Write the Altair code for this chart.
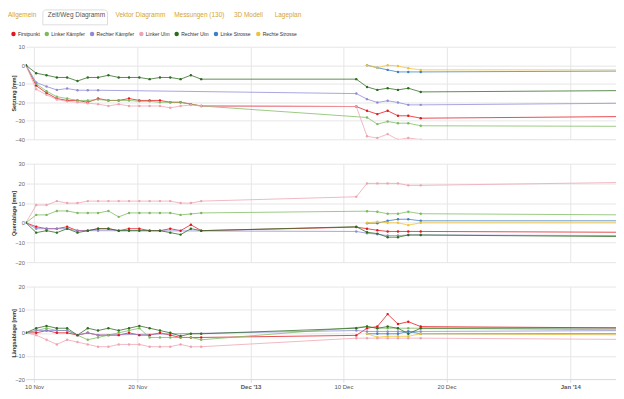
import altair as alt
import pandas as pd

FONT = "Liberation Sans"
N = None

SERIES = ["Firstpunkt", "Linker Kämpfer", "Rechter Kämpfer", "Linker Ulm",
          "Rechter Ulm", "Linke Strosse", "Rechte Strosse"]
COLORS = ["#e3161d", "#7dba5e", "#8e8ad6", "#eea3b0", "#2d6b1f", "#3c7fc2", "#efc23a"]

TABS = ["Allgemein", "Zeit/Weg Diagramm", "Vektor Diagramm", "Messungen (130)", "3D Modell", "Lageplan"]

TIMES = [
    "2013-11-09T05:00", "2013-11-10T05:00", "2013-11-11T05:00", "2013-11-12T05:00",
    "2013-11-13T05:00", "2013-11-14T05:00", "2013-11-15T05:00", "2013-11-16T05:00",
    "2013-11-17T05:00", "2013-11-18T05:00", "2013-11-19T05:00", "2013-11-20T05:00",
    "2013-11-21T05:00", "2013-11-22T05:00", "2013-11-23T05:00", "2013-11-24T05:00",
    "2013-11-25T05:00", "2013-11-26T05:00",
    "2013-12-11T06:00", "2013-12-12T07:00", "2013-12-13T07:00", "2013-12-14T07:00",
    "2013-12-15T07:00", "2013-12-16T07:00", "2013-12-17T12:00",
    "2014-01-20T00:00",
]

# Setzung [mm]
SET_FP = [0, -11, -15, -18, -19, -19, -20, -18, -19, -19, -18, -19, -19, -19, -20, -20, -21, -22,
          -22.3, -24.6, -26.4, -24.6, -27.3, -27.3, -28.6, -27.1]
SET_LK = [0, -10, -14, -17, -18, -19, -19, -18.5, -19, -19, -19, -19.5, -19.5, -20, -20, -20, -21, -22,
          N, -28.2, -31.8, -30.4, -31.3, -31.3, -32.7, -33.2]
SET_RK = [0, -9.3, -11.5, -13.3, -12.6, -13.5, -13.5, -13.5, N, N, N, N, N, N, N, N, N, N,
          -15.3, -18.3, -20.1, -19.2, -20.1, -21.4, -21.4, -19.9]
SET_LU = [0, -13, -16, -18.5, -19.5, -20, -20.5, -21, -22, -21, -22, -22, -22, -22, -23, -22, -21.5, -22,
          -22.3, -38.4, -39.3, -37.2, -40.2, -39.3, -40.2, -40.6]
SET_RU = [0, -4.3, -5.4, -6.6, -6.6, -8.5, -6.6, -6.6, -5.4, -6.6, -6.6, -6.6, -7.5, -6.6, -6.6, -7.5, -5.4, -7.5,
          -7.5, -11.7, -13.3, -12.4, -13.3, -12.4, -14.4, -13.2]
SET_LS = [N, N, N, N, N, N, N, N, N, N, N, N, N, N, N, N, N, N,
          N, 0, -1.3, -2.5, -3.6, -3.6, -3.6, -2.8]
SET_RS = [N, N, N, N, N, N, N, N, N, N, N, N, N, N, N, N, N, N,
          N, 0, -1.3, 0, -0.4, -1.6, -2.5, -2.5]

# Querablage [mm]
QUE_FP = [0, -2, -3, -3, -2, -4, -4, -3, -3, -4, -3, -3, -4, -4, -3, -4, -1, -4,
          -2.2, -3, -3.8, -4.4, -4.4, -4.4, -4.4, -5.1]
QUE_LK = [0, 4, 4, 6, 6, 5, 5, 5, 6, 3, 5, 5, 5, 5, 5, 4, 4.5, 5,
          N, 5.9, 5.6, 4.6, 4.6, 5.6, 4.6, 3.6]
QUE_RK = [0, -3, -3, -3, -3, -4, -4, -4, N, N, N, N, N, N, N, N, N, N,
          -4.4, -5.3, -5.8, -6.5, -6.5, -6.2, -6.2, -6.7]
QUE_LU = [0, 9, 9, 11, 10, 10, 11, 11, 11, 11, 11, 11, 11, 11, 11, 10, 10, 11,
          13.2, 20, 20, 20, 20, 19, 19, 21.5]
QUE_RU = [0, -5, -4, -5, -3, -5, -4, -3, -3, -4, -4, -4, -4, -4, -5, -6, -3, -4,
          -2, -4.8, -5.5, -7.3, -7.3, -6.2, -6.2, -7.6]
QUE_LS = [N, N, N, N, N, N, N, N, N, N, N, N, N, N, N, N, N, N,
          N, -0.2, -0.2, 1, 1.8, 1.8, 1, 1]
QUE_RS = [N, N, N, N, N, N, N, N, N, N, N, N, N, N, N, N, N, N,
          N, 0, 0.5, 0, 0, -1.2, 0, 0]

# Längsablage [mm]
LAE_FP = [0, 0, 1, 0, 0, -1, 0, -1, -1, -1, 0, -1, -1, 0, -1, -2, -2, -2,
          -1.1, 2, 2.7, 8.1, 3.8, 4.8, 2.7, 1.7]
LAE_LK = [0, 1, 2, 1, 1, -1, -3, -2, -1, 0, 1, 2, -2, -2, -2, -2, -2, -3,
          N, 2.7, 2, 2, 2, 2, 2, 0.8]
LAE_RK = [0, 1, 1, 1, 1, -1, 0, -1, N, N, N, N, N, N, N, N, N, N,
          1, 0.6, 0.6, 0.6, 0.6, 0.6, 0.6, 1.2]
LAE_LU = [0, -1, -3, -5, -3, -4, -5, -6, -6, -5, -5, -5, -6, -6, -6, -5, -6, -6,
          -2.3, -2.3, -2.3, -2.3, -2.3, -2.3, -2.3, -3.2]
LAE_RU = [0, 2, 3, 2, 2, -1, 2, 1, 2, 1, 2, 3, 2, 1, 0, -1.4, -0.4, -0.4,
          2, 2.7, 2, 2.7, 2, -0.4, 2, 2.2]
LAE_LS = [N, N, N, N, N, N, N, N, N, N, N, N, N, N, N, N, N, N,
          N, -0.4, -0.4, -0.4, -0.4, 0.6, -0.4, -0.4]
LAE_RS = [N, N, N, N, N, N, N, N, N, N, N, N, N, N, N, N, N, N,
          N, -0.4, -1.9, -1.5, -1.5, -1.5, -0.4, -1.2]

PANELS = {
    "set": [SET_FP, SET_LK, SET_RK, SET_LU, SET_RU, SET_LS, SET_RS],
    "que": [QUE_FP, QUE_LK, QUE_RK, QUE_LU, QUE_RU, QUE_LS, QUE_RS],
    "lae": [LAE_FP, LAE_LK, LAE_RK, LAE_LU, LAE_RU, LAE_LS, LAE_RS],
}

rows = []
for pname, lists in PANELS.items():
    for sname, vals in zip(SERIES, lists):
        for t, v in zip(TIMES, vals):
            if v is not None:
                rows.append({"panel": pname, "series": sname, "time": t, "value": v})
df = pd.DataFrame(rows)

GRID = "#e6e6e6"
W = 593
XDOM = [alt.DateTime(year=2013, month=11, date=9, hours=5),
        alt.DateTime(year=2014, month=1, date=5, hours=10, minutes=30)]
XTICKS = [alt.DateTime(year=2013, month=11, date=10), alt.DateTime(year=2013, month=11, date=20),
          alt.DateTime(year=2013, month=12, date=1), alt.DateTime(year=2013, month=12, date=10),
          alt.DateTime(year=2013, month=12, date=20), alt.DateTime(year=2014, month=1, date=1)]

color_scale = alt.Scale(domain=SERIES, range=COLORS)
legend = alt.Legend(orient="none", legendX=-15, legendY=-15.5, direction="horizontal", title=None,
                    symbolType="circle", symbolSize=20, symbolStrokeWidth=0, symbolOpacity=1,
                    labelFontSize=5, labelFont=FONT, labelColor="#333333", columnPadding=4.5,
                    labelOffset=2, padding=0, rowPadding=0)


def panel(pname, ydom, yvals, height, title, show_x):
    d = df[df.panel == pname]
    if show_x:
        xaxis = alt.Axis(values=XTICKS, grid=True, gridColor=GRID, title=None,
                         labelExpr="date(datum.value) == 1 ? timeFormat(datum.value, \"%b '%y\") : timeFormat(datum.value, '%d %b')",
                         labelFontWeight={"condition": {"test": "date(datum.value) == 1", "value": "bold"}, "value": "normal"},
                         labelFontSize=6, labelFont=FONT, labelColor="#555555", labelPadding=1,
                         ticks=True, tickSize=3, tickColor="#d5dcea", domain=True, domainColor="#d5dcea")
    else:
        xaxis = alt.Axis(values=XTICKS, grid=True, gridColor=GRID, title=None, labels=False,
                         ticks=False, domain=False)
    yaxis = alt.Axis(values=yvals, grid=True, gridColor=GRID, domain=False, ticks=False,
                     labelFontSize=5.8, labelFont=FONT, labelColor="#666666", labelPadding=1.5,
                     title=title, titleFont=FONT, titleFontSize=5.5, titleFontWeight="bold",
                     titleColor="#333333", titleAngle=270, titleAlign="center", titleBaseline="middle",
                     titleX=-12, titleY=height / 2)
    base = alt.Chart(d).encode(
        x=alt.X("time:T", scale=alt.Scale(domain=XDOM), axis=xaxis),
        y=alt.Y("value:Q", scale=alt.Scale(domain=ydom, nice=False, zero=False), axis=yaxis),
        color=alt.Color("series:N", scale=color_scale, legend=legend),
    )
    lines = base.mark_line(strokeWidth=0.9, opacity=0.85, clip=True)
    pts = base.mark_point(filled=True, size=6, opacity=1, clip=True)
    return [lines, pts]


one = alt.Chart(pd.DataFrame({"a": [0]}))

# header: tab bar (relative to panel-1 plot origin)
TAB_LEFT = [-18, 22, 90, 149, 209, 250]
header = []
header.append(one.mark_rect(opacity=0).encode(x=alt.value(-15), x2=alt.value(-14),
                                               y=alt.value(-37.5), y2=alt.value(-36.5)))
header.append(one.mark_rect(fill="white", stroke="#dddddd", strokeWidth=1,
                            cornerRadiusTopLeft=3, cornerRadiusTopRight=3).encode(
    x=alt.value(17), x2=alt.value(82), y=alt.value(-37), y2=alt.value(-22)))
for name, lx in zip(TABS, TAB_LEFT):
    header.append(one.mark_text(text=name, align="left", baseline="middle", font=FONT, fontSize=6.5,
                                color="#555555" if name == "Zeit/Weg Diagramm" else "#d4a437").encode(
        x=alt.value(lx), y=alt.value(-32)))

p1 = alt.layer(*header, *panel("set", [-40, 10], [10, 0, -10, -20, -30, -40], 93, "Setzung [mm]", False)
               ).properties(width=W, height=93)
p2 = alt.layer(*panel("que", [-20, 30], [30, 20, 10, 0, -10, -20], 99, "Querablage [mm]", False)
               ).properties(width=W, height=99)
p3 = alt.layer(*panel("lae", [-20, 20], [20, 10, 0, -10, -20], 93, "Längsablage [mm]", True)
               ).properties(width=W, height=93)

chart = alt.vconcat(p1, p2, p3, spacing=24.5, bounds="flush").properties(
    padding=0, background="white"
).resolve_scale(y="independent").configure_view(stroke=None)

chart.save("out.html", embed_options={"renderer": "svg", "actions": False})
